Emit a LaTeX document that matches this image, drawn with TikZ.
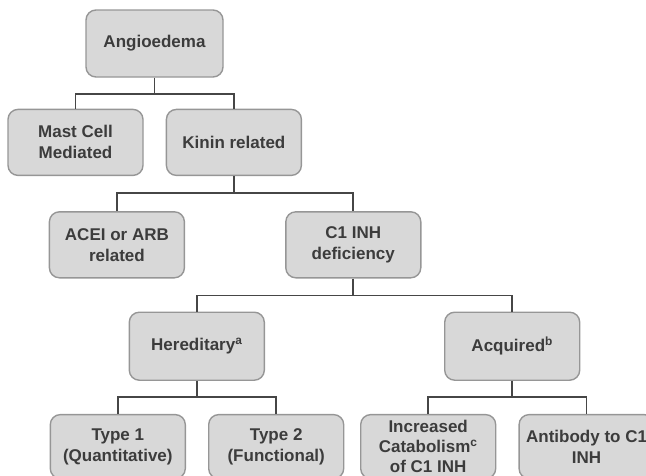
\documentclass[tikz,border=0pt]{standalone}
\usepackage{fontspec}
\setmainfont{Liberation Sans}
\usepackage{tikz}
\usetikzlibrary{positioning}

\definecolor{boxfill}{RGB}{216,216,216}
\definecolor{boxline}{RGB}{150,150,150}
\definecolor{txtgray}{RGB}{60,60,60}
\definecolor{wire}{RGB}{70,70,70}

\tikzset{
    kind/.style={draw=boxline, fill=boxfill, line width=1.4pt, rounded corners=10pt,
        minimum width=135pt, minimum height=66pt, inner sep=1pt, align=center,
        text=txtgray, font=\bfseries\fontsize{17}{21}\selectfont},
    wiring/.style={draw=wire, line width=1.7pt}
}

\begin{document}
\begin{tikzpicture}[x=1pt, y=-1pt]
                \useasboundingbox (0,0) rectangle (646,475);
                \node[kind, minimum width=137pt, minimum height=67pt] (ang) at (154.5,43.5) {Angioedema};
                \node[kind, below=31pt of ang, xshift=-79pt] (mast) {Mast Cell\\Mediated};
                \node[kind, right=22pt of mast] (kinin) {Kinin related};
                \node[kind, below=35pt of kinin, xshift=-117pt] (acei) {ACEI or ARB\\related};
                \node[kind, right=100pt of acei] (cinh) {C1 INH\\deficiency};
                \node[kind, minimum height=68pt, below=33pt of cinh, xshift=-156.5pt] (hered) {Hereditary\textsuperscript{a}};
                \node[kind, minimum height=68pt, right=179pt of hered] (acq) {Acquired\textsuperscript{b}};
                \node[kind, minimum height=64pt, below=33pt of hered, xshift=-79pt] (typeone) {Type 1\\(Quantitative)};
                \node[kind, minimum height=64pt, right=22pt of typeone] (typetwo) {Type 2\\(Functional)};
                \node[kind, minimum height=64pt, below=33pt of acq, xshift=-84pt,
                    font=\bfseries\fontsize{17}{20}\selectfont] (catab) {Increased\\Catabolism\textsuperscript{c}\\of C1 INH};
                \node[kind, minimum height=64pt, right=22pt of catab] (antib) {Antibody to C1\\INH};
                \draw[wiring] (ang.south) -- ++(0,16) coordinate (jang) -| (mast.north);
                \draw[wiring] (jang) -| (kinin.north);
                \draw[wiring] (kinin.south) -- ++(0,17) coordinate (jkin) -| (acei.north);
                \draw[wiring] (jkin) -| (cinh.north);
                \draw[wiring] (cinh.south) -- ++(0,17) coordinate (jcinh) -| (hered.north);
                \draw[wiring] (jcinh) -| (acq.north);
                \draw[wiring] (hered.south) -- ++(0,16) coordinate (jhered) -| (typeone.north);
                \draw[wiring] (jhered) -| (typetwo.north);
                \draw[wiring] (acq.south) -- ++(0,16) coordinate (jacq) -| (catab.north);
                \draw[wiring] (jacq) -| (antib.north);
            \end{tikzpicture}
\end{document}
